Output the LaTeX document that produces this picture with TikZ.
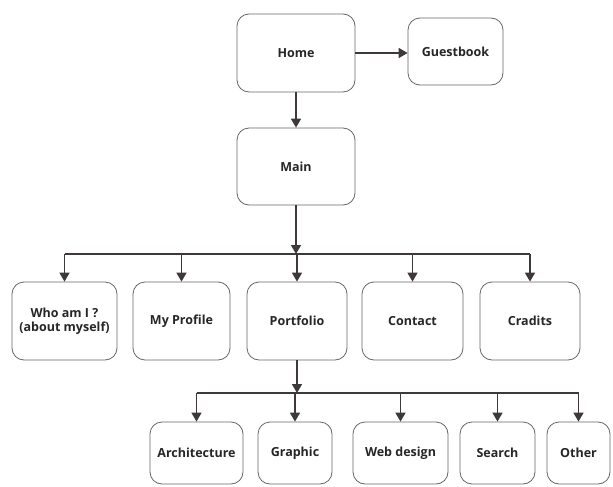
\documentclass[tikz,border=0pt]{standalone}
\usepackage{fontspec}
\setmainfont{Open Sans}
\usepackage{tikz}
\usetikzlibrary{arrows.meta}
\definecolor{inkgrey}{HTML}{3E3838}
\tikzset{every picture/.style={x=1pt,y=-1pt},
  page/.style={draw=black!60, thick, rounded corners=12pt, align=center,
    text=black!85, font=\fontsize{12.5}{14.5}\selectfont\bfseries,
    inner sep=2pt},
  link/.style={-{Triangle[length=9pt,width=10pt]}, inkgrey, line width=1.6pt},
  bus/.style={inkgrey, line width=1.6pt}}

\begin{document}
\begin{tikzpicture}
    \useasboundingbox[fill=white] (0,0) rectangle (613,487);

    % top
    \node[page, minimum width=118pt, minimum height=78pt](home) at (296, 53){Home};
    \node[page, minimum width=95pt, minimum height=67pt](guest) at (455.5, 51.5){Guestbook};
    \node[page, minimum width=118pt, minimum height=77pt](main) at (296, 166.5){Main};

    % second row
    \node[page, minimum width=105pt, minimum height=78pt](who) at (64.5, 321){Who am I ?\\(about myself)};
    \node[page, minimum width=97pt, minimum height=78pt](profile) at (181.5, 321){My Profile};
    \node[page, minimum width=100pt, minimum height=78pt](portfolio) at (297, 321){Portfolio};
    \node[page, minimum width=101pt, minimum height=78pt](contact) at (412.5, 321){Contact};
    \node[page, minimum width=100pt, minimum height=78pt](credits) at (530, 321){Cradits};

    % third row
    \node[page, minimum width=93pt, minimum height=62pt](archi) at (196.5, 453){Architecture};
    \node[page, minimum width=74pt, minimum height=62pt](graphic) at (295, 453){Graphic};
    \node[page, minimum width=95pt, minimum height=62pt](web) at (400.5, 453){Web design};
    \node[page, minimum width=75pt, minimum height=62pt](search) at (497.5, 453){Search};
    \node[page, minimum width=63pt, minimum height=62pt](other) at (578.5, 453){Other};

    \coordinate (bus1) at (296, 254);
    \coordinate (bus2) at (297, 393);

    \draw[link](home.east)--(home.east -| guest.west);
    \draw[link](home)--(main);
    \draw[link](main)--(bus1);
    \draw[link](portfolio)--(bus2);

    \draw[bus](bus1 -| who)--(bus1 -| credits);
    \draw[link](bus1 -| who)--(who);
    \draw[link](bus1 -| profile)--(profile);
    \draw[link](bus1 -| portfolio)--(portfolio);
    \draw[link](bus1 -| contact)--(contact);
    \draw[link](bus1 -| credits)--(credits);

    \draw[bus](bus2 -| archi)--(bus2 -| other);
    \draw[link](bus2 -| archi)--(archi);
    \draw[link](bus2 -| graphic)--(graphic);
    \draw[link](bus2 -| web)--(web);
    \draw[link](bus2 -| search)--(search);
    \draw[link](bus2 -| other)--(other);
  \end{tikzpicture}
\end{document}
